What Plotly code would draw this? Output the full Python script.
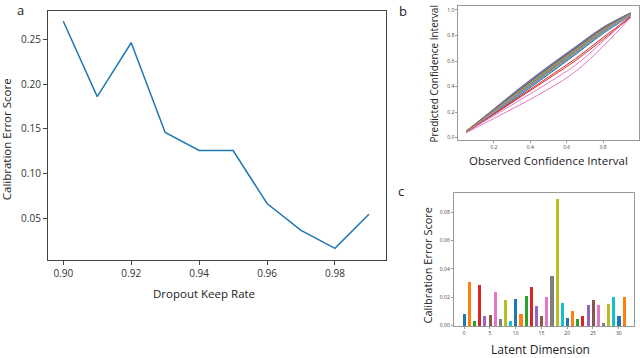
import plotly.graph_objects as go

# panel a: calibration error vs dropout keep rate
keep_rate = [0.90, 0.91, 0.92, 0.93, 0.94, 0.95, 0.96, 0.97, 0.98, 0.99]
keep_error = [0.270, 0.186, 0.246, 0.146, 0.126, 0.126, 0.067, 0.037, 0.017, 0.055]

# panel b: predicted vs observed confidence interval, one curve per latent dim
observed_ci = [0.05, 0.20, 0.35, 0.50, 0.65, 0.80, 0.95]
predicted_ci = [
    [0.050, 0.205, 0.370, 0.530, 0.685, 0.840, 0.965],
    [0.048, 0.200, 0.362, 0.522, 0.678, 0.835, 0.962],
    [0.052, 0.215, 0.385, 0.548, 0.702, 0.855, 0.972],
    [0.045, 0.182, 0.322, 0.462, 0.605, 0.770, 0.940],
    [0.053, 0.222, 0.395, 0.556, 0.710, 0.862, 0.975],
    [0.049, 0.198, 0.358, 0.516, 0.672, 0.830, 0.960],
    [0.040, 0.150, 0.262, 0.380, 0.520, 0.715, 0.940],
    [0.050, 0.208, 0.372, 0.534, 0.690, 0.845, 0.967],
    [0.047, 0.190, 0.345, 0.500, 0.658, 0.820, 0.955],
    [0.051, 0.212, 0.380, 0.542, 0.696, 0.850, 0.970],
    [0.046, 0.188, 0.340, 0.495, 0.652, 0.815, 0.953],
    [0.052, 0.218, 0.388, 0.550, 0.705, 0.857, 0.973],
    [0.050, 0.210, 0.376, 0.538, 0.692, 0.848, 0.968],
    [0.048, 0.195, 0.352, 0.508, 0.664, 0.825, 0.958],
    [0.054, 0.225, 0.398, 0.560, 0.714, 0.865, 0.977],
    [0.050, 0.206, 0.368, 0.528, 0.684, 0.840, 0.965],
    [0.045, 0.172, 0.300, 0.430, 0.570, 0.755, 0.950],
    [0.051, 0.214, 0.382, 0.545, 0.699, 0.852, 0.971],
    [0.049, 0.200, 0.360, 0.520, 0.676, 0.834, 0.962],
    [0.047, 0.192, 0.348, 0.504, 0.660, 0.822, 0.956],
    [0.052, 0.216, 0.386, 0.549, 0.703, 0.856, 0.972],
    [0.050, 0.204, 0.366, 0.526, 0.682, 0.838, 0.964],
    [0.053, 0.220, 0.392, 0.554, 0.708, 0.860, 0.975],
    [0.046, 0.186, 0.330, 0.475, 0.620, 0.785, 0.945],
    [0.052, 0.219, 0.390, 0.552, 0.706, 0.858, 0.974],
    [0.049, 0.202, 0.364, 0.524, 0.680, 0.836, 0.963],
    [0.048, 0.196, 0.354, 0.512, 0.668, 0.828, 0.959],
    [0.051, 0.211, 0.378, 0.540, 0.694, 0.849, 0.969],
    [0.050, 0.207, 0.374, 0.536, 0.688, 0.843, 0.966],
    [0.049, 0.203, 0.366, 0.527, 0.683, 0.839, 0.964],
    [0.051, 0.213, 0.381, 0.544, 0.698, 0.851, 0.970],
    [0.050, 0.209, 0.375, 0.537, 0.691, 0.846, 0.967],
]

# panel c: calibration error per latent dimension
latent_dim = list(range(32))
latent_error = [0.0085, 0.031, 0.003, 0.029, 0.0065, 0.0075, 0.024, 0.0045,
                0.018, 0.0035, 0.0185, 0.0085, 0.021, 0.027, 0.014, 0.0065,
                0.020, 0.035, 0.089, 0.016, 0.0055, 0.0105, 0.005, 0.0065,
                0.0145, 0.018, 0.0145, 0.002, 0.015, 0.020, 0.007, 0.020]

tab10 = ['#1f77b4', '#ff7f0e', '#2ca02c', '#d62728', '#9467bd',
         '#8c564b', '#e377c2', '#7f7f7f', '#bcbd22', '#17becf']

FONT = "Open Sans"
fig = go.Figure()

fig.add_trace(go.Scatter(x=keep_rate, y=keep_error, mode='lines',
                         line=dict(color=tab10[0], width=1.5),
                         xaxis='x', yaxis='y', showlegend=False))

for i, pred in enumerate(predicted_ci):
    fig.add_trace(go.Scatter(x=observed_ci, y=pred, mode='lines',
                             line=dict(color=tab10[i % 10], width=1, shape='spline'),
                             xaxis='x2', yaxis='y2', showlegend=False))

fig.add_trace(go.Bar(x=latent_dim, y=latent_error, width=0.6,
                     marker=dict(color=[tab10[i % 10] for i in latent_dim], line=dict(width=0)),
                     xaxis='x3', yaxis='y3', showlegend=False))

frame_a = dict(showline=True, mirror=True, linecolor='#444', linewidth=1.2,
               ticks='outside', ticklen=4, tickcolor='#444', showgrid=False,
               zeroline=False, tickfont=dict(family=FONT, size=10, color='#333'))
frame_s = dict(showline=True, mirror=True, linecolor='#999', linewidth=1,
               ticks='outside', ticklen=2, tickcolor='#999', showgrid=False,
               zeroline=False, tickfont=dict(family=FONT, size=5, color='#444'))

fig.update_layout(
    width=640, height=358, margin=dict(l=0, r=0, t=0, b=0),
    plot_bgcolor='white', paper_bgcolor='white', bargap=0,
    xaxis=dict(frame_a, domain=[0.075, 0.603], range=[0.8955, 0.995],
               tickvals=[0.90, 0.92, 0.94, 0.96, 0.98], tickformat='.2f', anchor='y'),
    yaxis=dict(frame_a, domain=[0.271, 0.969], range=[0.0046, 0.2813],
               tickvals=[0.05, 0.10, 0.15, 0.20, 0.25], tickformat='.2f', anchor='x'),
    xaxis2=dict(frame_s, domain=[0.716, 0.998], range=[0.005, 0.995],
                tickvals=[0.2, 0.4, 0.6, 0.8], tickformat='.1f', anchor='y2'),
    yaxis2=dict(frame_s, domain=[0.606, 0.983], range=[-0.02, 1.03],
                tickvals=[0.0, 0.2, 0.4, 0.6, 0.8, 1.0], tickformat='.1f', anchor='x2'),
    xaxis3=dict(frame_s, domain=[0.709, 0.991], range=[-2, 33],
                tickvals=[0, 5, 10, 15, 20, 25, 30], anchor='y3'),
    yaxis3=dict(frame_s, domain=[0.084, 0.458], range=[-0.0003, 0.0935],
                tickvals=[0.0, 0.02, 0.04, 0.06, 0.08], tickformat='.2f', anchor='x3'),
)

def label(text, x, y, size, angle=0):
    fig.add_annotation(text=text, x=x / 640, y=1 - y / 358, xref='paper', yref='paper',
                       showarrow=False, textangle=angle, xanchor='center', yanchor='middle',
                       font=dict(family=FONT, size=size, color='#222'))

label("Dropout Keep Rate", 204, 295, 11.5)
label("Calibration Error Score", 6, 140, 11.5, -90)
label("Observed Confidence Interval", 548, 161, 11.5)
label("Predicted Confidence Interval", 434, 74, 10, -90)
label("Latent Dimension", 540, 351, 12)
label("Calibration Error Score", 428, 267, 11, -90)
label("a", 20, 10, 13)
label("b", 403, 11, 13)
label("c", 401, 192, 13)

# page body has a default 8px margin that pushes the 640x358 figure off-screen
fig.write_html("out.html", config={'displayModeBar': False},
               post_script="document.body.style.margin='0';")
